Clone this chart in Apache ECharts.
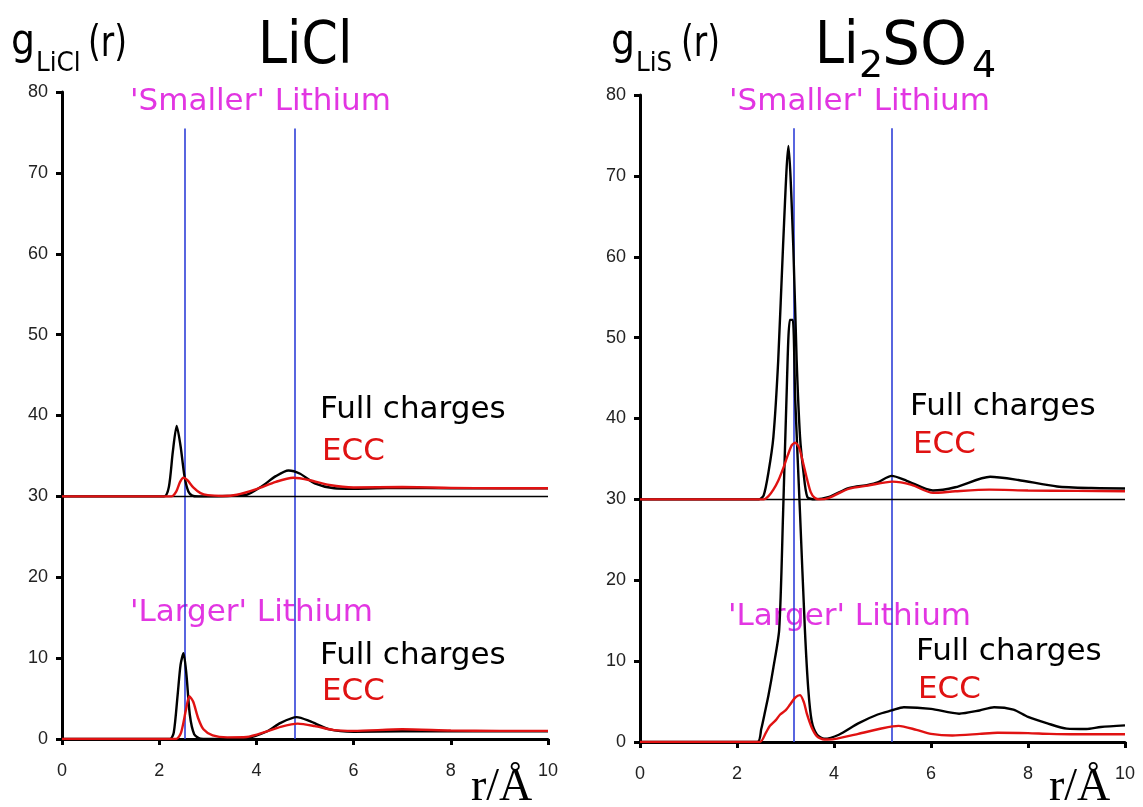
<!DOCTYPE html>
<html>
<head>
<meta charset="utf-8">
<script src="https://cdn.jsdelivr.net/npm/echarts@6/dist/echarts.min.js"></script>
<style>
  html, body { margin: 0; padding: 0; background: #fff; }
  #main { width: 1143px; height: 807px; }
</style>
</head>
<body>
<div id="main"></div>
<script>
// upper curves are shifted by 30 on the plot
var SHIFT = 30;

var xTicks = [0, 2, 4, 6, 8, 10];
var yTicks = [0, 10, 20, 30, 40, 50, 60, 70, 80];

// vertical guide positions (r / Å)
var liclMarks = [2.52, 4.78];
var lisMarks = [3.18, 5.2];

// LiCl, 'smaller' lithium (raw g, plotted + SHIFT)
var liclSmallFullR = [0, 2.1, 2.2, 2.28, 2.36, 2.44, 2.52, 2.6, 2.68, 2.8, 3.0, 3.4, 3.8, 4.1, 4.4, 4.66, 4.9, 5.2, 5.6, 6.0, 7.0, 8.0, 9.0, 10];
var liclSmallFullG = [0, 0, 1.2, 5.5, 8.7, 6.2, 2.5, 0.6, 0.1, 0, 0, 0.05, 0.2, 1.2, 2.5, 3.2, 2.8, 1.6, 1.0, 0.95, 1.05, 1.0, 1.0, 1.0];
var liclSmallEccR = [0, 2.25, 2.35, 2.43, 2.5, 2.58, 2.7, 2.85, 3.0, 3.3, 3.6, 4.0, 4.4, 4.76, 5.1, 5.5, 6.0, 7.0, 8.0, 9.0, 10];
var liclSmallEccG = [0, 0, 0.6, 1.8, 2.3, 2.0, 1.1, 0.4, 0.15, 0.05, 0.2, 0.9, 1.8, 2.3, 2.0, 1.4, 1.1, 1.15, 1.05, 1.0, 1.0];

// LiCl, 'larger' lithium
var liclLargeFullR = [0, 2.22, 2.3, 2.38, 2.44, 2.5, 2.56, 2.63, 2.72, 2.85, 3.2, 3.8, 4.2, 4.5, 4.83, 5.1, 5.5, 6.0, 7.0, 8.0, 9.0, 10];
var liclLargeFullG = [0, 0, 0.8, 5.5, 9.2, 10.6, 8.0, 3.0, 0.6, 0.05, 0, 0.1, 0.9, 2.0, 2.7, 2.2, 1.2, 0.9, 0.95, 0.95, 0.95, 0.95];
var liclLargeEccR = [0, 2.35, 2.45, 2.55, 2.62, 2.7, 2.8, 2.91, 3.1, 3.4, 3.8, 4.2, 4.5, 4.85, 5.2, 5.6, 6.0, 7.0, 8.0, 9.0, 10];
var liclLargeEccG = [0, 0, 0.8, 3.6, 5.3, 4.6, 2.6, 1.2, 0.45, 0.2, 0.25, 0.9, 1.5, 1.9, 1.6, 1.1, 1.0, 1.2, 1.05, 1.0, 1.0];

// Li2SO4, 'smaller' lithium
var lisSmallFullR = [0, 2.45, 2.55, 2.65, 2.75, 2.85, 2.95, 3.06, 3.16, 3.23, 3.3, 3.37, 3.45, 3.6, 3.9, 4.3, 4.7, 4.9, 5.19, 5.5, 6.04, 6.5, 7.22, 7.8, 8.6, 9.3, 10];
var lisSmallFullG = [0, 0, 0.5, 3.4, 7.7, 17.2, 31.4, 43.7, 31.4, 17.2, 7.7, 3.4, 0.3, 0, 0.3, 1.4, 1.8, 2.1, 2.9, 2.3, 1.1, 1.5, 2.8, 2.4, 1.6, 1.4, 1.35];
var lisSmallEccR = [0, 2.55, 2.65, 2.75, 2.85, 2.95, 3.05, 3.13, 3.2, 3.28, 3.36, 3.44, 3.52, 3.6, 3.7, 3.9, 4.3, 4.7, 5.2, 5.6, 6.04, 6.5, 7.2, 8.0, 9.0, 10];
var lisSmallEccG = [0, 0, 0.4, 1.2, 2.3, 3.8, 5.5, 6.7, 7.0, 6.4, 4.6, 2.6, 0.9, 0.2, 0, 0.2, 1.3, 1.7, 2.2, 1.8, 0.8, 1.0, 1.2, 1.1, 1.05, 1.0];

// Li2SO4, 'larger' lithium
var lisLargeFullR = [0, 2.42, 2.5, 2.58, 2.65, 2.75, 2.87, 2.95, 3.02, 3.09, 3.15, 3.2, 3.3, 3.4, 3.47, 3.54, 3.65, 3.8, 4.1, 4.5, 4.9, 5.19, 5.44, 6.0, 6.58, 7.0, 7.3, 7.7, 8.0, 8.4, 8.8, 9.2, 9.5, 10];
var lisLargeFullG = [0, 0, 1.6, 3.8, 5.8, 9.2, 13.9, 28.2, 42.4, 52.2, 52.2, 42.4, 28.2, 13.9, 6.5, 2.6, 0.9, 0.4, 0.9, 2.3, 3.4, 3.9, 4.3, 4.1, 3.5, 3.9, 4.3, 4.0, 3.1, 2.3, 1.65, 1.6, 1.85, 2.05];
var lisLargeEccR = [0, 2.47, 2.6, 2.68, 2.8, 2.89, 3.0, 3.09, 3.2, 3.3, 3.38, 3.44, 3.54, 3.65, 3.8, 4.0, 4.5, 5.0, 5.33, 5.7, 6.0, 6.44, 7.0, 7.37, 8.0, 8.44, 9.0, 10];
var lisLargeEccG = [0, 0, 1.2, 2.0, 2.7, 3.4, 3.9, 4.6, 5.5, 5.8, 4.9, 3.5, 1.8, 0.7, 0.3, 0.35, 1.0, 1.7, 2.0, 1.5, 1.0, 0.8, 1.0, 1.15, 1.1, 1.0, 0.95, 0.95];

var BLACK = '#000';
var RED = '#e01212';
var BLUE = '#2f3fd8';
var PINK = '#e236e2';
var SANS = 'DejaVu Sans';

function pts(r, g, shift) {
  return r.map(function (x, i) { return [x, g[i] + shift]; });
}

function curve(idx, r, g, shift, color, z) {
  return {
    type: 'line', xAxisIndex: idx, yAxisIndex: idx,
    data: pts(r, g, shift), showSymbol: false, smooth: 0.25,
    lineStyle: { color: color, width: 2.4 }, z: z, silent: true
  };
}

function guides(idx, marks, top) {
  var lines = marks.map(function (m) {
    return [{ coord: [m, 0] }, { coord: [m, top] }];
  });
  return {
    type: 'line', xAxisIndex: idx, yAxisIndex: idx, data: [], z: 1, silent: true,
    markLine: {
      symbol: 'none', silent: true, label: { show: false },
      lineStyle: { color: BLUE, width: 1.6, type: 'solid' },
      data: lines.concat([[{ coord: [0, SHIFT], lineStyle: { color: BLACK, width: 1.3 } },
                           { coord: [10, SHIFT] }]])
    }
  };
}

function xAx(idx) {
  return {
    type: 'value', gridIndex: idx, min: 0, max: 10, interval: 2,
    axisLine: { lineStyle: { color: BLACK, width: 3 } },
    axisTick: { length: 6, lineStyle: { color: BLACK, width: 3 } },
    axisLabel: { color: '#222', fontSize: 18, margin: 23, fontFamily: 'Liberation Sans',
      formatter: function (v) { return xTicks.indexOf(v) >= 0 ? String(v) : ''; } },
    splitLine: { show: false }
  };
}

function yAx(idx) {
  return {
    type: 'value', gridIndex: idx, min: 0, max: 80, interval: 10,
    axisLine: { show: true, lineStyle: { color: BLACK, width: 3 } },
    axisTick: { show: true, length: 6, lineStyle: { color: BLACK, width: 3 } },
    axisLabel: { color: '#222', fontSize: 18, margin: 14, fontFamily: 'Liberation Sans',
      formatter: function (v) { return yTicks.indexOf(v) >= 0 ? String(v) : ''; } },
    splitLine: { show: false }
  };
}

function txt(x, y, s, size, color, extra, sx, family) {
  var st = { text: s, x: 0, y: 0, fill: color,
    font: size + 'px "' + (family || SANS) + '"', textVerticalAlign: 'middle' };
  if (extra) for (var k in extra) st[k] = extra[k];
  return { type: 'text', z: 5, x: x, y: y, scaleX: sx || 1, style: st };
}

var chart = echarts.init(document.getElementById('main'));
chart.setOption({
  animation: false,
  backgroundColor: '#fff',
  grid: [
    { left: 62, top: 92, width: 486, height: 647 },
    { left: 640, top: 95, width: 485, height: 647 }
  ],
  xAxis: [xAx(0), xAx(1)],
  yAxis: [yAx(0), yAx(1)],
  series: [
    guides(0, liclMarks, 75.5),
    guides(1, lisMarks, 75.9),
    curve(0, liclSmallFullR, liclSmallFullG, SHIFT, BLACK, 10),
    curve(0, liclSmallEccR, liclSmallEccG, SHIFT, RED, 11),
    curve(0, liclLargeFullR, liclLargeFullG, 0, BLACK, 10),
    curve(0, liclLargeEccR, liclLargeEccG, 0, RED, 11),
    curve(1, lisSmallFullR, lisSmallFullG, SHIFT, BLACK, 10),
    curve(1, lisSmallEccR, lisSmallEccG, SHIFT, RED, 11),
    curve(1, lisLargeFullR, lisLargeFullG, 0, BLACK, 10),
    curve(1, lisLargeEccR, lisLargeEccG, 0, RED, 11)
  ],
  graphic: [
    // panel titles
    txt(258, 48, 'LiCl', 58, BLACK, null, 0.9),
    txt(815, 48, 'Li', 58, BLACK, null, 0.9),
    txt(859, 67, '2', 38, BLACK),
    txt(882, 48, 'SO', 60, BLACK),
    txt(972, 67, '4', 38, BLACK),
    // y-axis names
    txt(11, 43, 'g', 42, BLACK, null, 0.9),
    txt(36, 64, 'LiCl', 26, BLACK, null, 0.95),
    txt(88, 45, '(r)', 42, BLACK, null, 0.78),
    txt(611, 43, 'g', 42, BLACK, null, 0.9),
    txt(636, 64, 'LiS', 26, BLACK, null, 0.95),
    txt(681, 45, '(r)', 42, BLACK, null, 0.78),
    // x-axis names
    txt(471, 788, 'r/Å', 46, BLACK, null, 1, 'Liberation Serif'),
    txt(1049, 788, 'r/Å', 46, BLACK, null, 1, 'Liberation Serif'),
    // LiCl annotations
    txt(130, 102, "'Smaller' Lithium", 31, PINK),
    txt(129, 613, "'Larger' Lithium", 31, PINK,
      { backgroundColor: '#fff', padding: [2, 1, 8, 1] }),
    txt(320, 410, 'Full charges', 31, BLACK),
    txt(322, 452, 'ECC', 31, RED),
    txt(320, 656, 'Full charges', 31, BLACK),
    txt(322, 692, 'ECC', 31, RED),
    // Li2SO4 annotations
    txt(729, 102, "'Smaller' Lithium", 31, PINK),
    txt(727, 617, "'Larger' Lithium", 31, PINK,
      { backgroundColor: '#fff', padding: [2, 1, 8, 1] }),
    txt(910, 407, 'Full charges', 31, BLACK),
    txt(913, 445, 'ECC', 31, RED),
    txt(916, 652, 'Full charges', 31, BLACK),
    txt(918, 690, 'ECC', 31, RED)
  ]
});
</script>
</body>
</html>
